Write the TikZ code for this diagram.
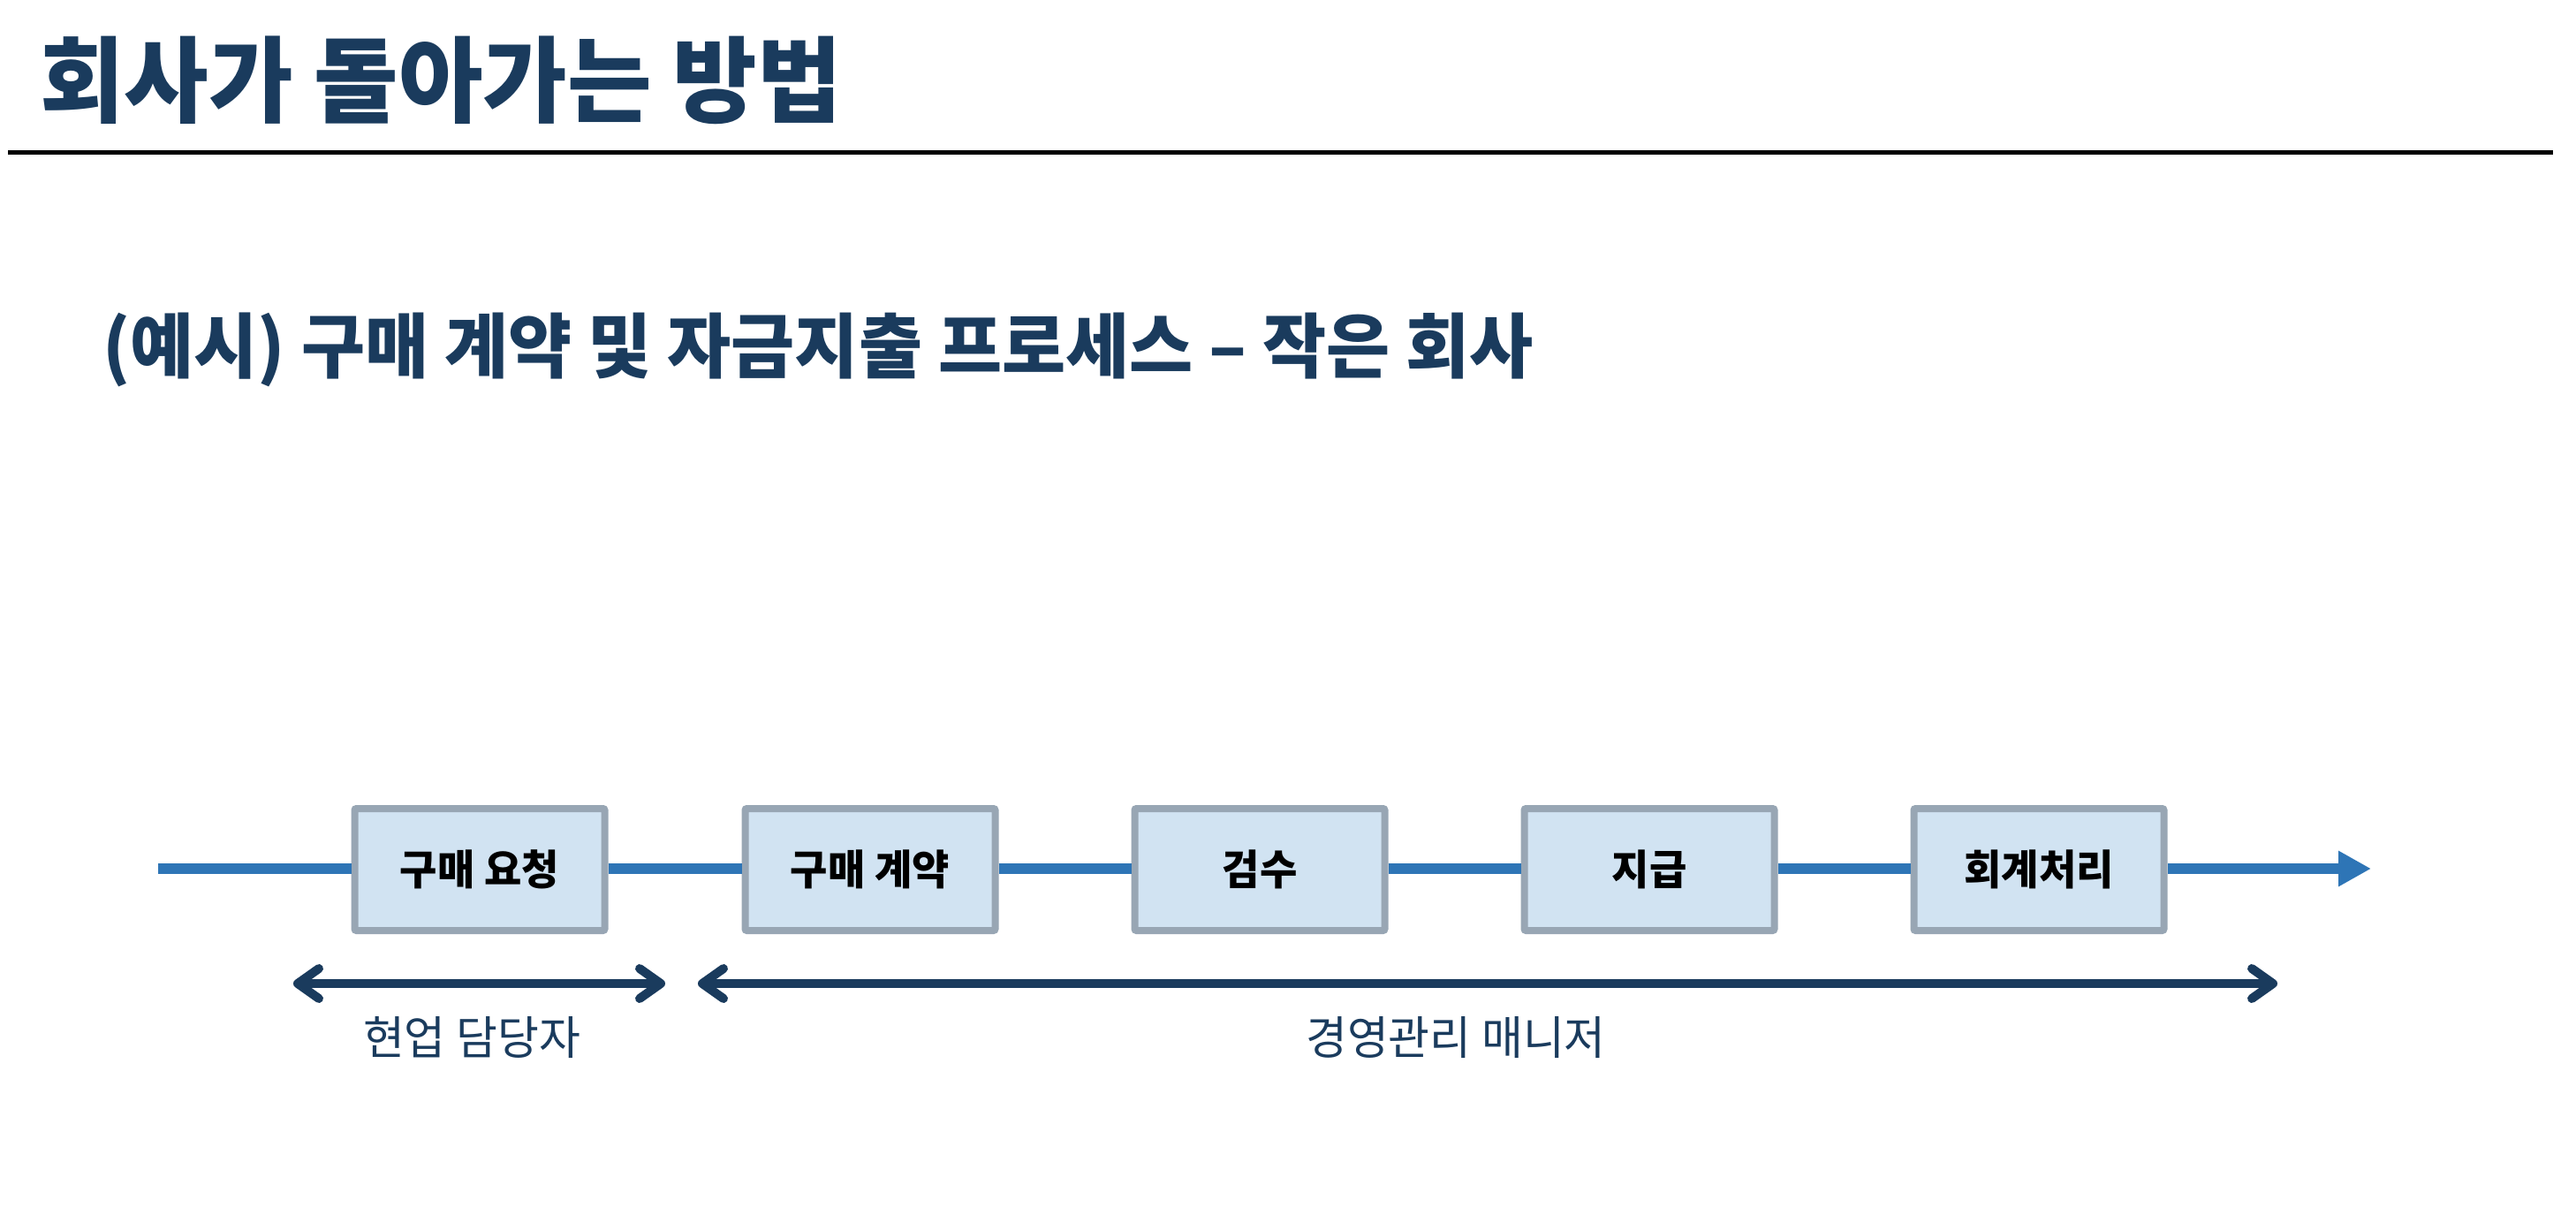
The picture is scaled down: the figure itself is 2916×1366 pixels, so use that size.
\documentclass[tikz,border=0pt]{standalone}
\usepackage{fontspec}
\usetikzlibrary{arrows.meta}
\newfontfamily\kr[FakeStretch=0.98]{Noto Sans CJK KR}
\definecolor{navy}{HTML}{1A3B5D}
\definecolor{flowblue}{HTML}{2E75B6}
\definecolor{boxfill}{HTML}{D1E3F2}
\definecolor{boxline}{HTML}{98A6B4}
\tikzset{
  stepbox/.style={draw=boxline, fill=boxfill, line width=8pt, rounded corners=2pt,
    minimum width=283pt, minimum height=138pt, inner sep=0pt,
    font={\kr\bfseries\fontsize{47}{50}\selectfont}, text=black},
  flow/.style={draw=flowblue, line width=12pt},
  span/.style={draw=navy, line width=10pt,
    {Straight Barb[length=24pt,width=34pt,round]}-{Straight Barb[length=24pt,width=34pt,round]}},
  rolelabel/.style={font={\kr\fontsize{52}{56}\selectfont}, text=navy, inner sep=0pt},
}
\begin{document}
\begin{tikzpicture}[x=1pt,y=-1pt]
\useasboundingbox[fill=white] (0,0) rectangle (2916,1366);
% title
\node[anchor=base west, inner sep=0pt, text=navy, font={\kr\bfseries\fontsize{106}{110}\selectfont}] (title) at (45,130) {회사가 돌아가는 방법};
\coordinate (rulel) at (9,172.5);
\coordinate (ruler) at (2890,172.5);
\draw[line width=5pt, black] (rulel) -- (ruler);
% subtitle
\node[anchor=base west, inner sep=0pt, text=navy, font={\kr\bfseries\fontsize{80}{84}\selectfont}] (subtitle) at (116,421) {(예시) 구매 계약 및 자금지출 프로세스 – 작은 회사};
% flow
\coordinate (fstart) at (179,983);
\coordinate (fend) at (2684,983);
\node[stepbox] (b1) at (543,984) {구매 요청};
\node[stepbox] (b2) at (985,984) {구매 계약};
\node[stepbox] (b3) at (1426,984) {검수};
\node[stepbox] (b4) at (1867,984) {지급};
\node[stepbox] (b5) at (2308,984) {회계처리};
\draw[flow] (fstart) -- (b1.west |- fstart);
\draw[flow] (b1.east |- fstart) -- (b2.west |- fstart);
\draw[flow] (b2.east |- fstart) -- (b3.west |- fstart);
\draw[flow] (b3.east |- fstart) -- (b4.west |- fstart);
\draw[flow] (b4.east |- fstart) -- (b5.west |- fstart);
\draw[flow, -{Triangle[length=37pt,width=38pt]}] (b5.east |- fstart) -- (fend);
% role spans
\coordinate (s1l) at (332,1113);
\coordinate (s1r) at (753,1113);
\coordinate (s2l) at (790,1113);
\coordinate (s2r) at (2578,1113);
\draw[span] (s1l) -- (s1r);
\draw[span] (s2l) -- (s2r);
\node[rolelabel] (r1) at (534,1174) {현업 담당자};
\node[rolelabel] (r2) at (1648,1174) {경영관리 매니저};
\end{tikzpicture}
\end{document}
